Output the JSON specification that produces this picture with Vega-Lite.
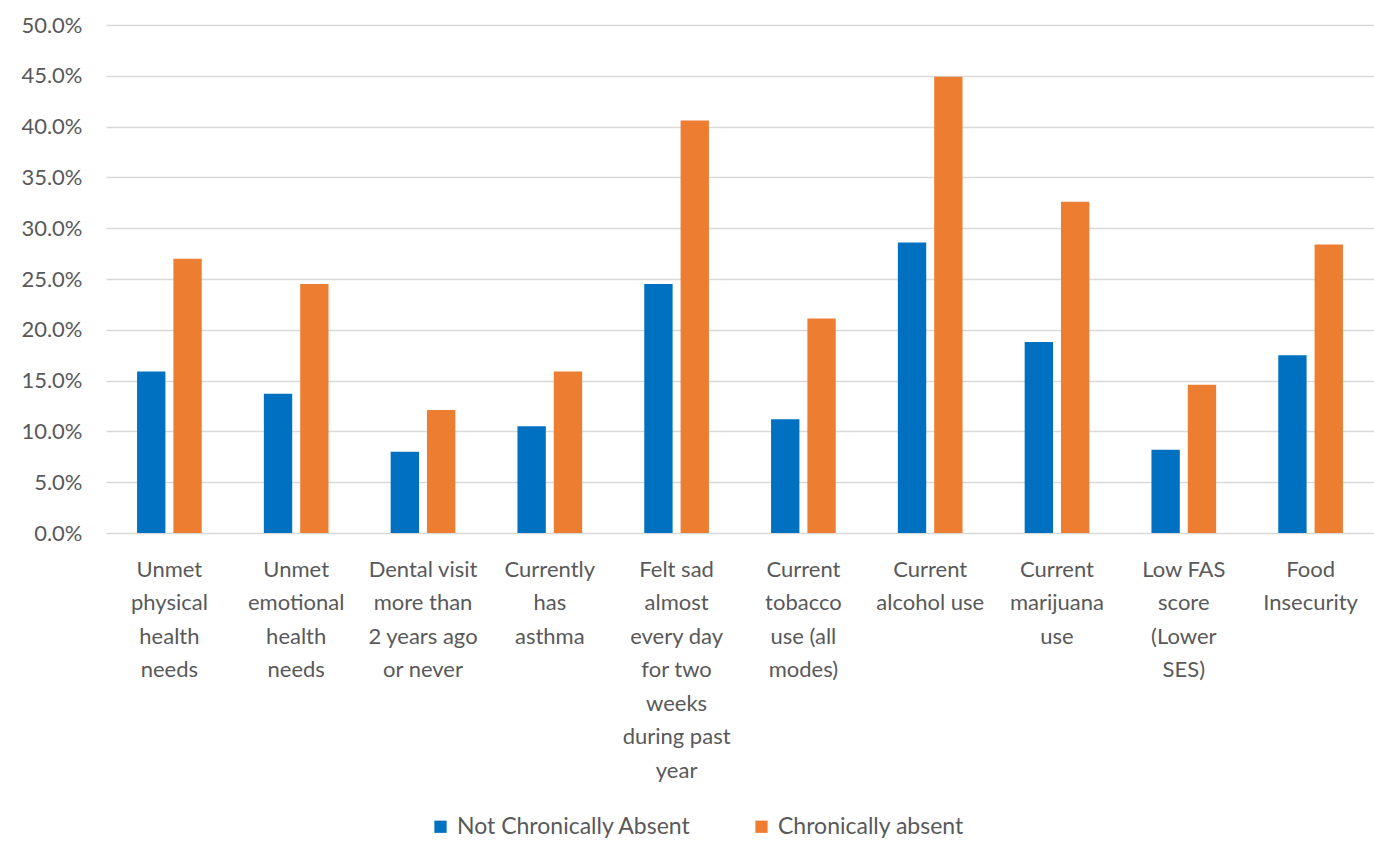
{
  "$schema": "https://vega.github.io/schema/vega-lite/v6.json",
  "width": 1268,
  "height": 508,
  "autosize": {"type": "none"},
  "padding": {"left": 106, "top": 25, "right": 0, "bottom": 309},
  "background": "white",
  "config": {
    "font": "Lato",
    "view": {"stroke": null},
    "axis": {"labelColor": "#595959", "labelFont": "Lato"},
    "legend": {"labelColor": "#595959", "labelFont": "Lato"}
  },
  "data": {
    "values": [
      {"category": "Unmet|physical|health|needs", "group": "Not Chronically Absent", "value": 0.159},
      {"category": "Unmet|physical|health|needs", "group": "Chronically absent", "value": 0.270},
      {"category": "Unmet|emotional|health|needs", "group": "Not Chronically Absent", "value": 0.137},
      {"category": "Unmet|emotional|health|needs", "group": "Chronically absent", "value": 0.245},
      {"category": "Dental visit|more than|2 years ago|or never", "group": "Not Chronically Absent", "value": 0.080},
      {"category": "Dental visit|more than|2 years ago|or never", "group": "Chronically absent", "value": 0.121},
      {"category": "Currently|has|asthma", "group": "Not Chronically Absent", "value": 0.105},
      {"category": "Currently|has|asthma", "group": "Chronically absent", "value": 0.159},
      {"category": "Felt sad|almost|every day|for two|weeks|during past|year", "group": "Not Chronically Absent", "value": 0.245},
      {"category": "Felt sad|almost|every day|for two|weeks|during past|year", "group": "Chronically absent", "value": 0.406},
      {"category": "Current|tobacco|use (all|modes)", "group": "Not Chronically Absent", "value": 0.112},
      {"category": "Current|tobacco|use (all|modes)", "group": "Chronically absent", "value": 0.211},
      {"category": "Current|alcohol use", "group": "Not Chronically Absent", "value": 0.286},
      {"category": "Current|alcohol use", "group": "Chronically absent", "value": 0.449},
      {"category": "Current|marijuana|use", "group": "Not Chronically Absent", "value": 0.188},
      {"category": "Current|marijuana|use", "group": "Chronically absent", "value": 0.326},
      {"category": "Low FAS|score|(Lower|SES)", "group": "Not Chronically Absent", "value": 0.082},
      {"category": "Low FAS|score|(Lower|SES)", "group": "Chronically absent", "value": 0.146},
      {"category": "Food|Insecurity", "group": "Not Chronically Absent", "value": 0.175},
      {"category": "Food|Insecurity", "group": "Chronically absent", "value": 0.284}
    ]
  },
  "mark": {"type": "bar"},
  "encoding": {
    "x": {
      "field": "category",
      "type": "nominal",
      "sort": null,
      "title": null,
      "scale": {"paddingInner": 0.49, "paddingOuter": 0.245},
      "axis": {
        "labelExpr": "split(datum.value, '|')",
        "labelAngle": 0,
        "labelFontSize": 22,
        "labelLineHeight": 33.5,
        "labelBaseline": "top",
        "labelPadding": 26,
        "ticks": false,
        "domain": false,
        "grid": false,
        "labelLimit": 200
      }
    },
    "xOffset": {
      "field": "group",
      "type": "nominal",
      "sort": ["Not Chronically Absent", "Chronically absent"],
      "scale": {"paddingInner": 0.22}
    },
    "y": {
      "field": "value",
      "type": "quantitative",
      "title": null,
      "scale": {"domain": [0, 0.5], "nice": false},
      "axis": {
        "format": ".1%",
        "values": [0, 0.05, 0.1, 0.15, 0.2, 0.25, 0.3, 0.35, 0.4, 0.45, 0.5],
        "labelFontSize": 22,
        "labelPadding": 24,
        "ticks": false,
        "domain": false,
        "gridColor": "#D9D9D9",
        "gridWidth": 1.5
      }
    },
    "color": {
      "field": "group",
      "type": "nominal",
      "sort": ["Not Chronically Absent", "Chronically absent"],
      "scale": {"domain": ["Not Chronically Absent", "Chronically absent"], "range": ["#0070C0", "#ED7D31"]},
      "legend": {
        "title": null,
        "orient": "none",
        "direction": "horizontal",
        "legendX": 323,
        "legendY": 790,
        "symbolType": "square",
        "symbolSize": 150,
        "symbolStrokeWidth": 0,
        "labelFontSize": 23,
        "labelOffset": 5,
        "labelLimit": 400,
        "columnPadding": 58
      }
    }
  }
}
